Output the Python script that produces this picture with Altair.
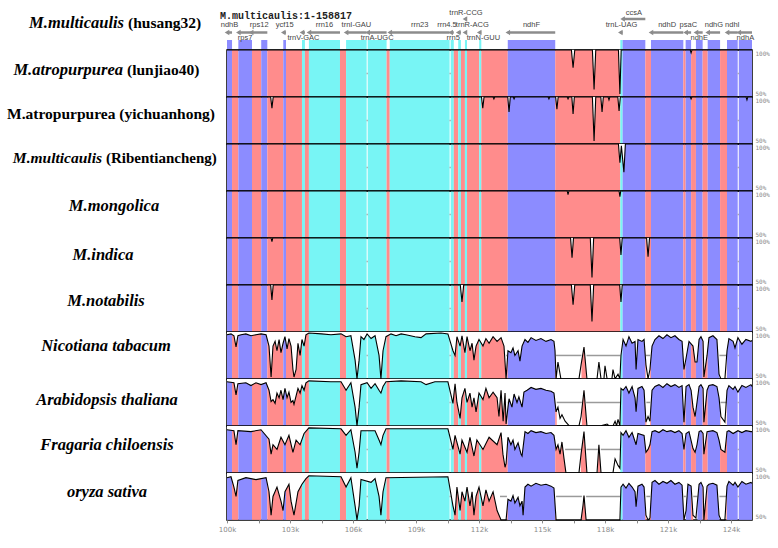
import altair as alt
import pandas as pd

# ---------------- reference annotation (kb) ----------------
SEG_START = [100.00, 100.24, 100.54, 101.19, 101.63, 101.92, 102.68, 102.81, 103.57, 103.71,
             103.90, 105.38, 105.67, 106.70, 107.60, 107.75, 110.65, 110.80, 111.01, 111.14,
             111.33, 111.43, 112.01, 112.11, 113.37, 115.63, 118.73, 118.84, 119.92, 120.19,
             121.73, 121.84, 122.10, 122.33, 122.65, 122.89, 123.48, 123.81, 124.37]
SEG_END = [100.24, 100.54, 101.19, 101.63, 101.92, 102.68, 102.81, 103.57, 103.71, 103.90,
           105.38, 105.67, 106.65, 107.60, 107.75, 110.60, 110.80, 111.01, 111.14, 111.33,
           111.43, 112.01, 112.11, 113.37, 115.63, 118.73, 118.84, 119.92, 120.19, 121.73,
           121.84, 122.10, 122.33, 122.65, 122.89, 123.48, 123.81, 124.32, 125.00]
SEG_TYPE = ['exon', 'cns', 'exon', 'cns', 'exon', 'cns', 'exon', 'cns', 'utr', 'cns',
            'utr', 'cns', 'utr', 'utr', 'cns', 'utr', 'utr', 'cns', 'utr', 'cns',
            'utr', 'cns', 'utr', 'cns', 'exon', 'cns', 'utr', 'exon', 'cns', 'exon',
            'cns', 'exon', 'cns', 'exon', 'cns', 'exon', 'cns', 'exon', 'exon']

GENE_NAME = ['ndhB', 'rps7', 'rps12', 'ycf15', 'trnV-GAC', 'rrn16', 'trnI-GAU', 'trnA-UGC',
             'rrn23', 'rrn4.5', 'rrn5', 'trnR-ACG', 'trnR-CCG', 'trnN-GUU', 'ndhF', 'trnL-UAG',
             'ccsA', 'ndhD', 'psaC', 'ndhE', 'ndhG', 'ndhI', 'ndhA']
GENE_START = [100.00, 100.54, 101.15, 102.68, 103.57, 103.90, 105.67, 106.70, 107.75, 110.65,
              111.01, 111.33, 111.33, 112.01, 113.37, 118.73, 118.84, 120.19, 121.84, 122.33,
              122.89, 123.81, 124.37]
GENE_END = [100.24, 101.19, 101.92, 102.81, 103.71, 105.38, 106.65, 107.60, 110.60, 110.80,
            111.14, 111.43, 111.43, 112.11, 115.63, 118.84, 119.92, 121.73, 122.10, 122.65,
            123.48, 124.32, 125.00]
GENE_LANE = ['above', 'below', 'above', 'above', 'below', 'above', 'above', 'below', 'above',
             'above', 'below', 'above', 'upper', 'below', 'above', 'above', 'upper', 'above',
             'above', 'below', 'above', 'above', 'below']

# ---------------- identity profiles: (kb after 100 kb, % identity) ----------------
LUNJIAO40 = [(0, 100), (16.40, 100), (16.48, 81), (16.56, 100), (17.40, 100), (17.48, 58),
             (17.56, 100), (18.64, 100), (18.71, 53), (18.77, 100), (22.06, 100), (22.10, 97),
             (22.14, 100), (25, 100)]
YICHUANHONG = [(0, 100), (2.08, 100), (2.14, 88), (2.20, 100), (12.12, 100), (12.18, 88),
               (12.24, 100), (12.67, 100), (12.71, 98), (12.75, 100), (13.37, 100), (13.43, 84),
               (13.49, 100), (13.63, 100), (13.67, 98), (13.71, 100), (15.29, 100), (15.33, 98),
               (15.37, 100), (15.65, 100), (15.71, 87), (15.77, 100), (16.20, 100), (16.24, 98),
               (16.28, 100), (16.42, 100), (16.48, 82), (16.54, 100), (17.40, 100), (17.48, 53),
               (17.56, 100), (17.80, 100), (17.86, 84), (17.92, 100), (18.15, 100), (18.19, 97),
               (18.23, 100), (18.61, 100), (18.67, 85), (18.73, 100), (22.06, 100), (22.10, 98),
               (22.14, 100), (24.72, 100), (24.76, 97), (24.80, 100), (25, 100)]
RIBENTIANCHENG = [(0, 100), (18.64, 100), (18.71, 80), (18.78, 98), (18.90, 70), (18.97, 100),
                  (25, 100)]
MONGOLICA = [(0, 100), (16.20, 100), (16.24, 96), (16.28, 100), (18.67, 100), (18.71, 94),
             (18.75, 100), (25, 100)]
INDICA = [(0, 100), (2.10, 100), (2.14, 96), (2.18, 100), (16.36, 100), (16.43, 79), (16.50, 100),
          (17.30, 100), (17.38, 58), (17.46, 100), (18.70, 100), (18.76, 82), (18.82, 100),
          (19.98, 100), (20.05, 80), (20.12, 100), (25, 100)]
NOTABILIS = [(0, 100), (2.08, 100), (2.14, 84), (2.20, 100), (11.11, 100), (11.19, 82),
             (11.27, 100), (16.40, 100), (16.48, 79), (16.56, 100), (17.30, 100), (17.38, 61),
             (17.46, 100), (18.70, 100), (18.76, 82), (18.82, 100), (25, 100)]
NICOTIANA = [(0, 97), (0.19, 98), (0.33, 96), (0.43, 84), (0.52, 96), (0.67, 97), (0.9, 98),
             (1.14, 96), (1.38, 97), (1.62, 98), (1.86, 97), (2.0, 85), (2.1, 52), (2.19, 85),
             (2.29, 90), (2.38, 80), (2.48, 92), (2.57, 78), (2.67, 88), (2.76, 95), (2.86, 82),
             (2.95, 93), (3.05, 85), (3.14, 60), (3.19, 52), (3.29, 60), (3.38, 88), (3.48, 75),
             (3.57, 92), (3.67, 85), (3.76, 97), (3.9, 99), (4.5, 98), (4.95, 97), (5.43, 98),
             (5.67, 95), (5.9, 96), (6.1, 70), (6.19, 50), (6.29, 70), (6.38, 95), (6.52, 92),
             (6.67, 98), (6.86, 93), (7.05, 96), (7.24, 75), (7.33, 50), (7.43, 80), (7.57, 95),
             (7.81, 98), (8.05, 96), (8.29, 98), (8.52, 97), (8.95, 95), (9.24, 94), (9.48, 98),
             (10.19, 99), (10.52, 98), (10.76, 80), (10.86, 75), (10.95, 95), (11.1, 85),
             (11.19, 96), (11.33, 78), (11.43, 95), (11.57, 80), (11.67, 88), (11.76, 70),
             (11.86, 85), (12.0, 92), (12.19, 85), (12.33, 93), (12.48, 88), (12.67, 95),
             (12.86, 90), (13.05, 94), (13.19, 85), (13.29, 50), (13.38, 80), (13.52, 78),
             (13.62, 83), (13.71, 75), (13.86, 80), (13.95, 69), (14.05, 85), (14.19, 92),
             (14.33, 89), (14.48, 94), (14.71, 91), (14.95, 93), (15.19, 90), (15.43, 92),
             (15.57, 90), (15.62, 80), (15.67, 50), (15.76, 68), (15.9, 50), (16.76, 50),
             (16.86, 65), (17.0, 84), (17.14, 50), (17.62, 50), (17.71, 68), (17.81, 50),
             (17.95, 50), (18.0, 64), (18.1, 50), (18.33, 50), (18.38, 60), (18.48, 50),
             (18.62, 55), (18.71, 50), (18.76, 75), (18.86, 92), (19.0, 85), (19.14, 95),
             (19.29, 88), (19.43, 90), (19.48, 60), (19.57, 92), (19.76, 90), (19.86, 92),
             (19.95, 65), (20.05, 50), (20.14, 60), (20.24, 85), (20.38, 92), (20.57, 96),
             (20.76, 93), (20.95, 97), (21.14, 94), (21.33, 96), (21.52, 92), (21.67, 90),
             (21.76, 60), (21.86, 72), (22.0, 90), (22.19, 85), (22.29, 68), (22.38, 68),
             (22.48, 92), (22.57, 95), (22.67, 90), (22.71, 52), (22.86, 75), (22.95, 94),
             (23.14, 96), (23.33, 92), (23.43, 55), (23.52, 50), (23.71, 50), (23.81, 80),
             (23.9, 93), (24.1, 90), (24.19, 83), (24.33, 94), (24.52, 87), (24.71, 92),
             (24.95, 90), (25.0, 91)]
ARABIDOPSIS = [(0, 97), (0.33, 96), (0.43, 83), (0.52, 95), (0.9, 96), (1.14, 93), (1.38, 96),
               (1.62, 94), (1.86, 96), (2.0, 88), (2.1, 76), (2.19, 78), (2.29, 74), (2.38, 85),
               (2.48, 80), (2.57, 88), (2.67, 78), (2.76, 90), (2.86, 80), (2.95, 86), (3.05, 75),
               (3.14, 77), (3.19, 73), (3.29, 82), (3.38, 90), (3.48, 85), (3.57, 93), (3.67, 88),
               (3.76, 96), (3.9, 98), (4.95, 97), (5.43, 97), (5.67, 88), (5.9, 96), (6.1, 70),
               (6.19, 50), (6.29, 70), (6.38, 94), (6.67, 96), (6.86, 90), (7.05, 95), (7.24, 88),
               (7.33, 85), (7.43, 92), (7.57, 97), (8.29, 98), (9.24, 97), (9.48, 94), (9.9, 97),
               (10.52, 97), (10.76, 74), (10.86, 95), (10.95, 75), (11.1, 58), (11.19, 80),
               (11.33, 90), (11.43, 75), (11.57, 85), (11.67, 70), (11.76, 80), (11.86, 65),
               (12.0, 85), (12.19, 78), (12.33, 90), (12.48, 80), (12.67, 86), (12.86, 80),
               (12.95, 60), (13.05, 88), (13.15, 55), (13.24, 85), (13.29, 52), (13.38, 70),
               (13.43, 79), (13.57, 70), (13.67, 84), (13.81, 75), (13.9, 81), (14.05, 70),
               (14.14, 86), (14.29, 88), (14.48, 91), (14.71, 89), (14.95, 90), (15.19, 88),
               (15.43, 87), (15.57, 85), (15.67, 65), (15.76, 70), (15.86, 58), (15.95, 62),
               (16.1, 55), (16.3, 50), (16.76, 50), (16.86, 60), (17.0, 88), (17.14, 50),
               (17.8, 50), (18.1, 52), (18.2, 50), (18.38, 50), (18.48, 55), (18.55, 50),
               (18.62, 57), (18.71, 50), (18.76, 90), (18.86, 88), (19.0, 92), (19.14, 85),
               (19.29, 92), (19.43, 80), (19.48, 65), (19.57, 90), (19.76, 92), (19.86, 88),
               (19.95, 54), (20.05, 60), (20.14, 55), (20.24, 88), (20.38, 92), (20.57, 94),
               (20.76, 91), (20.95, 95), (21.14, 92), (21.33, 94), (21.52, 91), (21.67, 93),
               (21.76, 54), (21.86, 92), (22.0, 94), (22.1, 88), (22.19, 70), (22.29, 60),
               (22.38, 75), (22.48, 92), (22.57, 94), (22.67, 90), (22.71, 54), (22.86, 88),
               (22.95, 93), (23.14, 94), (23.33, 92), (23.43, 80), (23.52, 60), (23.71, 54),
               (23.81, 88), (23.9, 93), (24.1, 89), (24.19, 92), (24.33, 86), (24.52, 93),
               (24.71, 91), (24.95, 94), (25, 92)]
FRAGARIA = [(0, 96), (0.33, 95), (0.43, 80), (0.52, 95), (1.14, 94), (1.62, 96), (2.0, 86),
            (2.1, 70), (2.19, 80), (2.38, 75), (2.57, 88), (2.76, 80), (2.95, 90), (3.14, 72),
            (3.29, 85), (3.48, 80), (3.67, 92), (3.9, 98), (5.43, 97), (5.67, 90), (5.9, 96),
            (6.1, 72), (6.19, 55), (6.29, 72), (6.38, 95), (7.05, 95), (7.24, 85), (7.33, 80),
            (7.43, 90), (7.57, 97), (10.52, 97), (10.76, 75), (10.86, 90), (11.1, 70),
            (11.19, 85), (11.43, 72), (11.57, 88), (11.76, 68), (11.9, 85), (12.19, 75),
            (12.48, 88), (12.86, 80), (13.05, 93), (13.14, 70), (13.24, 56), (13.29, 60),
            (13.38, 88), (13.52, 80), (13.62, 85), (13.71, 75), (13.86, 82), (14.0, 70),
            (14.05, 68), (14.19, 94), (14.33, 92), (14.48, 95), (14.71, 93), (14.95, 94),
            (15.19, 92), (15.43, 93), (15.57, 90), (15.67, 75), (15.76, 80), (15.86, 70),
            (15.95, 83), (16.05, 65), (16.14, 50), (16.76, 50), (16.86, 70), (17.0, 94),
            (17.14, 50), (17.62, 50), (17.71, 80), (17.81, 50), (18.38, 50), (18.48, 65),
            (18.62, 58), (18.71, 55), (18.76, 93), (18.86, 90), (19.0, 95), (19.14, 88),
            (19.29, 93), (19.48, 80), (19.57, 92), (19.86, 90), (19.95, 72), (20.05, 75),
            (20.14, 80), (20.24, 94), (20.38, 95), (20.57, 93), (20.76, 96), (20.95, 94),
            (21.14, 95), (21.33, 93), (21.52, 95), (21.67, 92), (21.76, 75), (21.86, 92),
            (22.0, 94), (22.19, 76), (22.29, 72), (22.38, 80), (22.48, 94), (22.57, 95),
            (22.67, 92), (22.71, 70), (22.86, 94), (23.14, 95), (23.33, 93), (23.43, 85),
            (23.52, 75), (23.71, 72), (23.81, 94), (23.9, 95), (24.1, 92), (24.33, 95),
            (24.52, 93), (24.71, 95), (24.95, 94), (25, 94)]
ORYZA = [(0, 95), (0.19, 96), (0.33, 85), (0.43, 75), (0.52, 92), (0.9, 95), (1.38, 93),
         (1.86, 95), (2.0, 80), (2.1, 55), (2.19, 75), (2.38, 85), (2.57, 70), (2.67, 60),
         (2.76, 80), (2.95, 88), (3.05, 70), (3.19, 55), (3.38, 80), (3.57, 88), (3.76, 94),
         (3.9, 97), (5.43, 96), (5.67, 85), (5.9, 95), (6.1, 65), (6.19, 50), (6.29, 65),
         (6.38, 93), (6.86, 90), (7.05, 94), (7.24, 75), (7.33, 55), (7.43, 80), (7.57, 95),
         (10.52, 96), (10.76, 65), (10.86, 55), (10.95, 85), (11.1, 60), (11.19, 80),
         (11.33, 70), (11.43, 85), (11.57, 65), (11.67, 80), (11.76, 55), (11.86, 75),
         (12.0, 85), (12.19, 65), (12.33, 82), (12.48, 70), (12.67, 80), (12.86, 60),
         (13.05, 50), (13.29, 50), (13.38, 72), (13.52, 70), (13.62, 76), (13.71, 68),
         (13.86, 74), (13.95, 65), (14.05, 70), (14.1, 55), (14.19, 85), (14.33, 88),
         (14.48, 86), (14.71, 89), (14.95, 87), (15.19, 88), (15.43, 86), (15.57, 84),
         (15.67, 50), (16.86, 50), (16.95, 65), (17.0, 76), (17.1, 50), (18.71, 50),
         (18.76, 85), (18.86, 88), (19.0, 84), (19.14, 89), (19.29, 85), (19.43, 80),
         (19.48, 64), (19.57, 86), (19.76, 88), (19.86, 85), (19.95, 55), (20.05, 50),
         (20.14, 52), (20.24, 90), (20.38, 92), (20.57, 88), (20.76, 91), (20.95, 89),
         (21.14, 92), (21.33, 88), (21.52, 90), (21.67, 87), (21.76, 50), (21.86, 60),
         (21.95, 88), (22.1, 86), (22.19, 55), (22.33, 52), (22.48, 88), (22.57, 90),
         (22.67, 85), (22.71, 50), (22.86, 86), (22.95, 88), (23.14, 89), (23.33, 87),
         (23.43, 55), (23.52, 50), (23.71, 50), (23.81, 86), (23.9, 91), (24.1, 87),
         (24.19, 90), (24.33, 85), (24.52, 91), (24.71, 88), (24.95, 90), (25, 89)]

# conserved stretches (kb after 100 kb) that get coloured
CONS_MORUS = [(0, 25)]
CONS_NICOTIANA = [(0, 13.29), (13.33, 15.67), (16.88, 17.12), (18.73, 19.95), (20.15, 23.45),
                  (23.80, 25)]
CONS_ARABIDOPSIS = [(0, 13.33), (13.35, 15.70), (16.90, 17.10), (18.73, 19.97), (20.15, 23.50),
                    (23.80, 25)]
CONS_FRAGARIA = [(0, 16.10), (16.85, 17.12), (17.66, 17.80), (18.73, 25)]
CONS_ORYZA = [(0, 13.0), (13.33, 15.67), (16.90, 17.10), (18.73, 19.97), (20.15, 21.75),
              (21.85, 22.20), (22.40, 23.45), (23.78, 25)]

REF_ITALIC = 'M.multicaulis'
REF_REGULAR = '(husang32)'
LABEL_ITALIC = ['M.atropurpurea', '', 'M.multicaulis', 'M.mongolica', 'M.indica', 'M.notabilis',
                'Nicotiana tabacum', 'Arabidopsis thaliana', 'Fragaria chiloensis', 'oryza sativa']
LABEL_REGULAR = ['(lunjiao40)', 'M.atropurpurea (yichuanhong)', '(Ribentiancheng)', '', '', '',
                 '', '', '', '']
TITLE = 'M.multicaulis:1-158817'

PROFILES = [LUNJIAO40, YICHUANHONG, RIBENTIANCHENG, MONGOLICA, INDICA, NOTABILIS,
            NICOTIANA, ARABIDOPSIS, FRAGARIA, ORYZA]
CONSERVED = [CONS_MORUS] * 6 + [CONS_NICOTIANA, CONS_ARABIDOPSIS, CONS_FRAGARIA, CONS_ORYZA]

# ---------------- layout / style ----------------
W = 525
TRACK_H = 46.9
ANNOT_H = 49
ITALIC_SIZE = 16.5
REGULAR_SIZE = 15.5
# (x of split / centre relative to plot, y, italic size, regular size)
LABEL_POS = [(-104, 20, 16.5, 15.5), (-116, 17, 16.5, 15.5), (-125, 14, 15.5, 15),
             (-113, 15, 16.5, 15.5), (-124, 17, 16.5, 15.5), (-121, 15.5, 16.5, 15.5),
             (-121, 14, 16.5, 15.5), (-120, 21, 16.5, 15.5), (-120, 19, 16.5, 15.5),
             (-120, 19, 16.5, 15.5)]
GENE_LABEL_SHIFT = {'rrn4.5': -250, 'trnR-ACG': 300, 'rrn5': -300, 'trnN-GUU': 150}
COLOR_DOMAIN = ['exon', 'utr', 'cns']
COLOR_RANGE = ['#8c8cff', '#78f5f5', '#ff8c8c']
CSCALE = alt.Scale(domain=COLOR_DOMAIN, range=COLOR_RANGE)
XS = alt.Scale(domain=[100000, 125000], nice=False, zero=False)
YS = alt.Scale(domain=[50, 100], nice=False, zero=False)
SERIF = 'Liberation Serif'
GENE_GRAY = '#8c8c8c'


def text_layer(s, x, y, align, style, size, weight='bold', font=SERIF, color='black'):
    return alt.Chart(pd.DataFrame({'t': [s]})).mark_text(
        font=font, fontSize=size, fontWeight=weight, fontStyle=style, align=align,
        baseline='middle', color=color).encode(text='t:N', x=alt.value(x), y=alt.value(y))


def label_layers(ital, reg, x, y, isz=ITALIC_SIZE, rsz=REGULAR_SIZE):
    if ital and reg:
        return [text_layer(ital, x, y, 'right', 'italic', isz),
                text_layer(reg, x + 4, y, 'left', 'normal', rsz)]
    if ital:
        return [text_layer(ital, x, y, 'center', 'italic', isz)]
    return [text_layer(reg, x, y, 'center', 'normal', rsz)]


def colored_intervals(cons):
    rows = []
    for s, e, t in zip(SEG_START, SEG_END, SEG_TYPE):
        for cs, ce in cons:
            a, b = max(s, 100 + cs), min(e, 100 + ce)
            if b > a:
                rows.append((a, b, t))
    return rows


def gaps(rows):
    out, cur = [], 100.0
    for a, b in sorted((a, b) for a, b, _ in rows):
        if a > cur + 1e-9:
            out.append((cur, a))
        cur = max(cur, b)
    if cur < 125:
        out.append((cur, 125.0))
    return out


YAXIS = alt.Axis(orient='right', values=[50, 100], labelExpr="datum.value + '%'",
                 labelFlush=True, ticks=False, domain=False, grid=False, labelFontSize=6,
                 labelColor='#8a8a8a', labelFont='DejaVu Sans Mono', labelPadding=3, title='')
XAXIS = alt.Axis(values=list(range(100000, 125001, 1500)),
                 labelExpr="(datum.value - 100000) % 3000 == 0 ? (datum.value / 1000) + 'k' : ''",
                 labelFontSize=7, labelColor='#8a8a8a', labelFont='DejaVu Sans',
                 tickColor='#8a8a8a', tickSize=3, domain=False, grid=False, title='',
                 labelPadding=3, labelOverlap=False, labelFlush=False)


def track_chart(i):
    crow = colored_intervals(CONSERVED[i])
    cdf = pd.DataFrame({'s': [a * 1000 for a, _, _ in crow], 'e': [b * 1000 for _, b, _ in crow],
                        't': [t for _, _, t in crow]})
    cdf['hi'] = 100
    cdf['lo'] = 50
    g = gaps(crow)
    gdf = pd.DataFrame({'s': [a * 1000 for a, _ in g], 'e': [b * 1000 for _, b in g]})
    gdf['m'] = 75
    prof = PROFILES[i]
    pdf = pd.DataFrame({'pos': [(100 + p) * 1000 for p, _ in prof], 'ident': [v for _, v in prof]})
    pdf['top'] = 100
    xa = XAXIS if i == len(PROFILES) - 1 else None
    rect = alt.Chart(cdf).mark_rect().encode(
        x=alt.X('s:Q', scale=XS, axis=xa),
        x2=alt.X2('e'),
        y=alt.Y('hi:Q', scale=YS, axis=YAXIS),
        y2=alt.Y2('lo'),
        color=alt.Color('t:N', scale=CSCALE, legend=None))
    mask = alt.Chart(pdf).mark_area(color='white', opacity=1).encode(
        x=alt.X('pos:Q', scale=XS, axis=xa), y=alt.Y('ident:Q', scale=YS, axis=YAXIS),
        y2=alt.Y2('top'))
    gray = alt.Chart(gdf).mark_rule(color='#9a9a9a', strokeWidth=1.5).encode(
        x=alt.X('s:Q', scale=XS, axis=xa), x2=alt.X2('e'), y=alt.Y('m:Q', scale=YS, axis=YAXIS))
    line = alt.Chart(pdf).mark_line(color='black', strokeWidth=1.1).encode(
        x=alt.X('pos:Q', scale=XS, axis=xa), y=alt.Y('ident:Q', scale=YS, axis=YAXIS))
    lx, ly, isz, rsz = LABEL_POS[i]
    labels = label_layers(LABEL_ITALIC[i], LABEL_REGULAR[i], lx, ly, isz, rsz)
    return alt.layer(rect, mask, gray, line, *labels).properties(width=W, height=TRACK_H)


# ---------------- annotation panel ----------------
genes = pd.DataFrame({'name': GENE_NAME, 's': [v * 1000 for v in GENE_START],
                      'e': [v * 1000 for v in GENE_END], 'lane': GENE_LANE})
genes['mid'] = (genes['s'] + genes['e']) / 2 + genes['name'].map(GENE_LABEL_SHIFT).fillna(0)
main_g = genes[genes['lane'] != 'upper']
upper_g = genes[genes['lane'] == 'upper']
boxes = pd.DataFrame({'s': [v * 1000 for v in SEG_START], 'e': [v * 1000 for v in SEG_END],
                      't': SEG_TYPE})
boxes = boxes[boxes['t'] != 'cns']


def arrows(df, y):
    r = alt.Chart(df).mark_rule(color=GENE_GRAY, strokeWidth=2.5).encode(
        x=alt.X('s:Q', scale=XS, axis=None), x2=alt.X2('e'), y=alt.value(y))
    h = alt.Chart(df).mark_point(shape='triangle-left', filled=True, size=28, color=GENE_GRAY,
                                 opacity=1).encode(x=alt.X('s:Q', scale=XS, axis=None), y=alt.value(y))
    return [r, h]


def gene_labels(df, y):
    return alt.Chart(df).mark_text(font='Liberation Sans', fontSize=7.5, color='#444444',
                                   baseline='middle').encode(
        x=alt.X('mid:Q', scale=XS, axis=None), y=alt.value(y), text='name:N')


box_layer = alt.Chart(boxes).mark_rect().encode(
    x=alt.X('s:Q', scale=XS, axis=None), x2=alt.X2('e'), y=alt.value(39), y2=alt.value(48.5),
    color=alt.Color('t:N', scale=CSCALE, legend=None))
anchor = alt.Chart(pd.DataFrame({'a': [0]})).mark_rect(opacity=0).encode(
    x=alt.value(-226), x2=alt.value(-225), y=alt.value(0), y2=alt.value(1))
title = text_layer(TITLE, -7, 14.5, 'left', 'normal', 10, font='Liberation Mono',
                   color='#222222')

annot = alt.layer(
    anchor, box_layer,
    *arrows(main_g, 31.5), *arrows(upper_g, 18),
    gene_labels(main_g[main_g['lane'] == 'above'], 24),
    gene_labels(main_g[main_g['lane'] == 'below'], 37),
    gene_labels(upper_g, 11.5),
    title,
    *label_layers(REF_ITALIC, REF_REGULAR, -103, 22),
).properties(width=W, height=ANNOT_H, view=alt.ViewBackground(stroke='transparent'))

chart = alt.vconcat(annot, *[track_chart(i) for i in range(len(PROFILES))],
                    spacing=0, bounds='flush',
                    padding={'left': 0, 'top': 0, 'right': 0, 'bottom': 0}
                    ).properties(background='white').configure_view(stroke='black', strokeWidth=1.5)

chart.save('out.html', embed_options={'renderer': 'svg', 'actions': False})
